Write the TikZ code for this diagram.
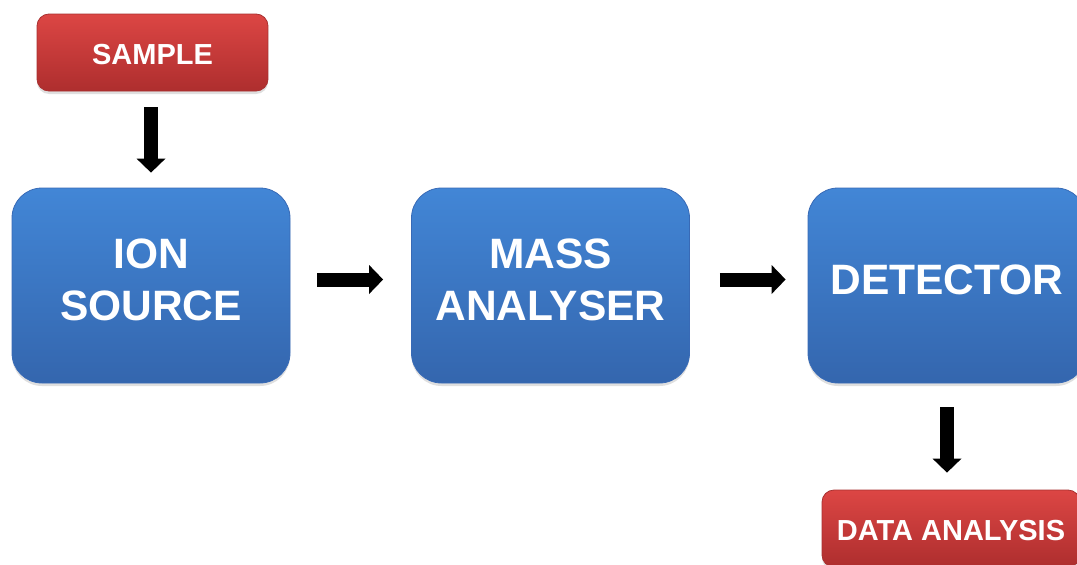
\documentclass[tikz,border=0pt]{standalone}
\usepackage{fontspec}
\setmainfont{Liberation Sans}
\usepackage{tikz}
\usetikzlibrary{arrows.meta,positioning,calc,shadows}
\definecolor{bluetop}{RGB}{66,134,214}
\definecolor{bluebot}{RGB}{52,102,174}
\definecolor{blueline}{RGB}{56,106,182}
\definecolor{redtop}{RGB}{220,70,68}
\definecolor{redbot}{RGB}{174,46,46}
\definecolor{redline}{RGB}{168,48,48}

\begin{document}
\begin{tikzpicture}[
    x=1pt, y=-1pt,
    stage/.style={rectangle, rounded corners=30pt, draw=blueline, line width=0.8pt,
        top color=bluetop, bottom color=bluebot, minimum width=278pt, minimum height=195pt,
        align=center, text=white, font=\bfseries\fontsize{42.5}{52}\selectfont,
        text depth=12pt,
        drop shadow={opacity=0.25, shadow xshift=0pt, shadow yshift=-3pt}},
    io/.style={rectangle, rounded corners=12pt, draw=redline, line width=0.8pt,
        top color=redtop, bottom color=redbot, minimum height=77pt,
        align=center, text=white, font=\bfseries\fontsize{29}{34}\selectfont,
        text height=25pt,
        drop shadow={opacity=0.25, shadow xshift=0pt, shadow yshift=-3pt}},
    flow/.style={line width=14pt, -{Triangle[length=14pt, width=29pt, line width=0pt]}}
]
    \clip (0,0) rectangle (1077,565);

    % Input
    \node[io, minimum width=231pt] (sample) at (152.5,52.5) {SAMPLE};

    % Instrument
    \node[stage] (ion) at (151,285.5) {ION\\SOURCE};
    \node[stage] (mass) at (550.5,285.5) {MASS\\ANALYSER};
    \node[stage] (det) at (947,285.5) {DETECTOR};

    % Output
    \node[io, minimum width=258pt] (data) at (951,528.5) {DATA ANALYSIS};

    % Arrows
    \draw[flow, shorten <=16pt, shorten >=15pt] (sample.south -| ion.north) -- (ion.north);
    \draw[flow, shorten <=27pt, shorten >=28pt] ([yshift=6pt]ion.east) -- ([yshift=6pt]mass.west);
    \draw[flow, shorten <=30pt, shorten >=22pt] ([yshift=6pt]mass.east) -- ([yshift=6pt]det.west);
    \draw[flow, shorten <=24pt, shorten >=17pt] (det.south) -- (det.south |- data.north);
\end{tikzpicture}
\end{document}
